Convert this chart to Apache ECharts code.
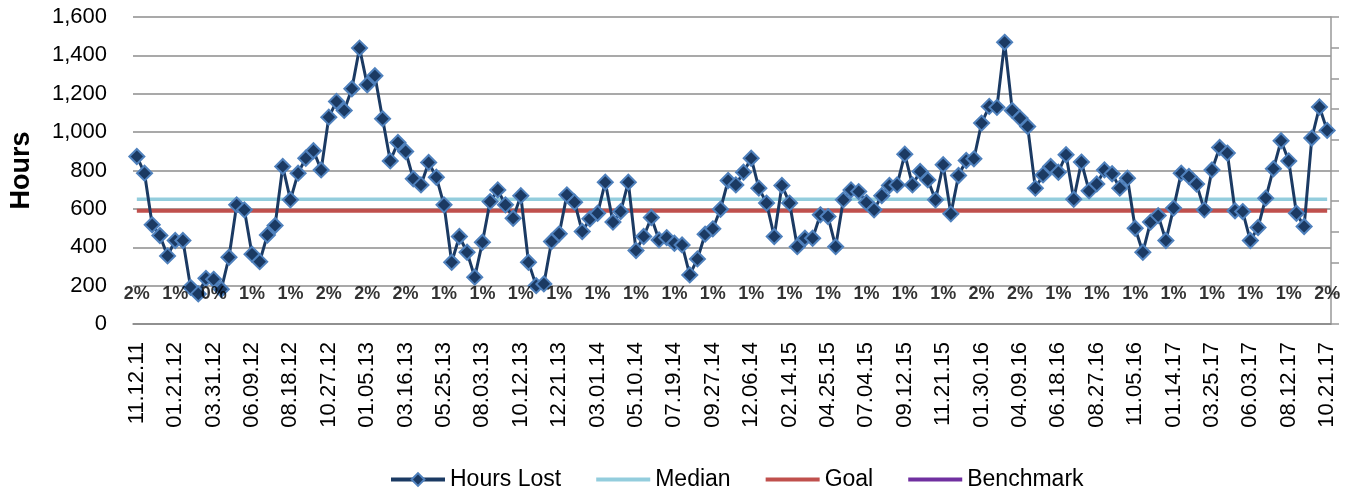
<!DOCTYPE html>
<html>
<head>
<meta charset="utf-8">
<script src="https://cdn.jsdelivr.net/npm/echarts@6/dist/echarts.min.js"></script>
<style>
html, body { margin: 0; padding: 0; background: #fff; }
#chart1 { width: 1348px; height: 491px; }
</style>
</head>
<body>
<div id="chart1"></div>
<script>
// biweekly hours lost
var hoursLost = [
	873, 786, 517, 461, 355, 435, 435, 191, 157, 238,
	233, 181, 348, 621, 595, 364, 325, 464, 513, 821,
	647, 786, 864, 903, 803, 1078, 1160, 1113, 1226, 1438,
	1247, 1294, 1070, 850, 946, 899, 757, 725, 842, 765,
	621, 322, 456, 374, 244, 426, 638, 699, 621, 551,
	669, 322, 200, 209, 430, 470, 673, 635, 482, 548,
	577, 739, 531, 586, 739, 383, 456, 555, 438, 450,
	421, 412, 256, 339, 468, 496, 598, 748, 725, 791,
	864, 708, 630, 456, 722, 630, 403, 447, 447, 569,
	560, 403, 647, 699, 690, 633, 595, 669, 722, 725,
	885, 725, 795, 751, 647, 830, 574, 774, 852, 861,
	1047, 1134, 1129, 1468, 1113, 1073, 1029, 708, 777, 821,
	791, 882, 650, 844, 694, 730, 803, 783, 708, 760,
	499, 374, 531, 565, 435, 604, 786, 769, 729, 595,
	803, 920, 891, 590, 586, 435, 503, 656, 809, 955,
	850, 577, 508, 969, 1131, 1009
];

// every 5th point carries a date label and a rate label
var tickLabels = [
	'11.12.11', '01.21.12', '03.31.12', '06.09.12', '08.18.12', '10.27.12',
	'01.05.13', '03.16.13', '05.25.13', '08.03.13', '10.12.13', '12.21.13',
	'03.01.14', '05.10.14', '07.19.14', '09.27.14', '12.06.14', '02.14.15',
	'04.25.15', '07.04.15', '09.12.15', '11.21.15', '01.30.16', '04.09.16',
	'06.18.16', '08.27.16', '11.05.16', '01.14.17', '03.25.17', '06.03.17',
	'08.12.17', '10.21.17'
];
var pctLabels = [
	'2%', '1%', '0%', '1%', '1%', '2%', '2%', '2%', '1%', '1%', '1%',
	'1%', '1%', '1%', '1%', '1%', '1%', '1%', '1%', '1%', '1%', '1%',
	'2%', '2%', '1%', '1%', '1%', '1%', '1%', '1%', '1%', '2%'
];
var step = 5;
var medianValue = 650;
var goalValue = 590;
var pctLevel = 200;

var font = '"Liberation Sans", Arial, sans-serif';

var categories = [];
var medianData = [];
var goalData = [];
for (var i = 0; i < hoursLost.length; i++) {
	categories.push(i % step === 0 ? tickLabels[i / step] : '');
	medianData.push(medianValue);
	goalData.push(goalValue);
}
var pctData = [];
for (var k = 0; k < pctLabels.length; k++) {
	pctData.push([k * step, pctLevel, pctLabels[k]]);
}

var chart1 = echarts.init(document.getElementById('chart1'));
var option = {
	animation: false,
	backgroundColor: '#fff',
	textStyle: { fontFamily: font },
	grid: { left: 131, right: 17, top: 17, bottom: 167 },
	legend: {
		data: [
			'Hours Lost',
			{ name: 'Median', itemStyle: { opacity: 0 } },
			{ name: 'Goal', itemStyle: { opacity: 0 } },
			{ name: 'Benchmark', itemStyle: { opacity: 0 } }
		],
		left: 384,
		top: 463,
		itemWidth: 54,
		itemHeight: 16,
		itemGap: 33,
		lineStyle: { width: 4 },
		textStyle: { fontSize: 23, color: '#000', fontFamily: font }
	},
	xAxis: {
		type: 'category',
		data: categories,
		boundaryGap: true,
		axisLine: { lineStyle: { color: '#888', width: 1.5 } },
		axisTick: { show: false },
		axisLabel: {
			interval: 0,
			rotate: 90,
			margin: 18,
			fontSize: 22,
			color: '#000',
			fontFamily: font
		}
	},
	yAxis: [{
		type: 'value',
		min: 0,
		max: 1600,
		interval: 200,
		name: 'Hours',
		nameLocation: 'middle',
		nameRotate: 90,
		nameGap: 98,
		nameTextStyle: { fontSize: 27, fontWeight: 'bold', color: '#000', fontFamily: font },
		axisLine: { show: false },
		axisTick: { show: false },
		axisLabel: {
			margin: 26,
			fontSize: 22,
			color: '#000',
			fontFamily: font,
			formatter: function (v) { return v.toLocaleString('en-US'); }
		},
		splitLine: { lineStyle: { color: '#8c8c8c', width: 1.5 } }
	}, {
		type: 'value',
		position: 'right',
		min: 0,
		max: 10,
		interval: 1,
		axisLine: { show: true, lineStyle: { color: '#999', width: 1.5 } },
		axisTick: { show: true, length: 8, lineStyle: { color: '#999', width: 1.5 } },
		axisLabel: { show: false },
		splitLine: { show: false }
	}],
	series: [{
		name: 'Median',
		type: 'line',
		data: medianData,
		symbol: 'none',
		lineStyle: { color: '#93CDDD', width: 3.5 },
		itemStyle: { color: '#93CDDD' },
		z: 2
	}, {
		name: 'Goal',
		type: 'line',
		data: goalData,
		symbol: 'none',
		lineStyle: { color: '#C0504D', width: 4 },
		itemStyle: { color: '#C0504D' },
		z: 2
	}, {
		name: 'Benchmark',
		type: 'line',
		data: [],
		symbol: 'none',
		lineStyle: { color: '#7030A0', width: 3.5 },
		itemStyle: { color: '#7030A0' }
	}, {
		name: 'Hours Lost',
		type: 'line',
		data: hoursLost,
		symbol: 'diamond',
		symbolSize: 15,
		lineStyle: { color: '#1B3A63', width: 3 },
		itemStyle: { color: '#1B3A63', borderColor: '#4F81BD', borderWidth: 2 },
		z: 4
	}, {
		name: 'Rate',
		type: 'scatter',
		data: pctData,
		symbolSize: 1,
		itemStyle: { color: 'rgba(0,0,0,0)' },
		silent: true,
		label: {
			show: true,
			position: 'inside',
			offset: [0, 8],
			fontSize: 18,
			fontWeight: 'bold',
			color: '#000',
			fontFamily: font,
			formatter: function (p) { return p.data[2]; }
		},
		z: 6
	}]
};
chart1.setOption(option);
</script>
</body>
</html>
